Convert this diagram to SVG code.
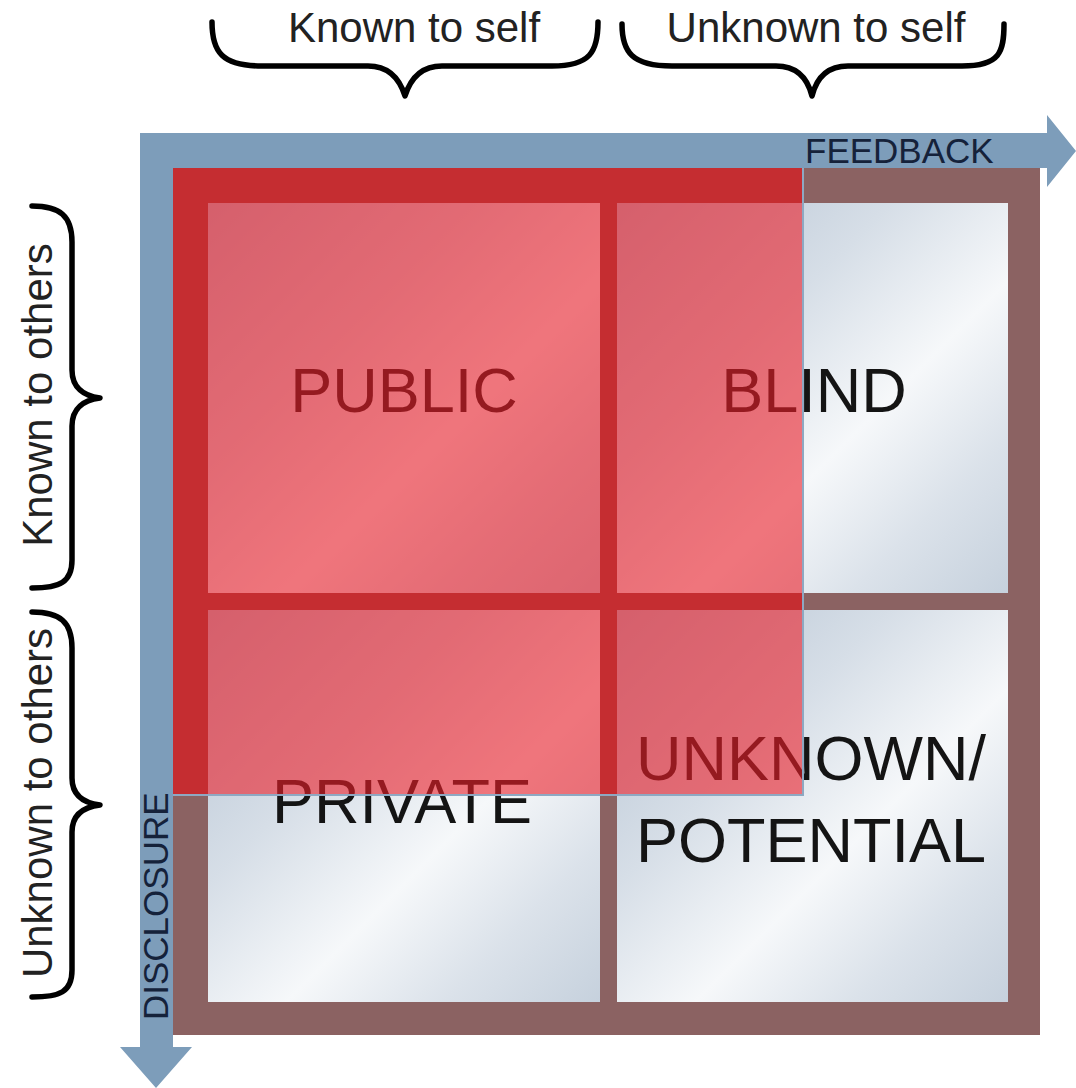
<svg xmlns="http://www.w3.org/2000/svg" width="1076" height="1088" viewBox="0 0 1076 1088">
  <defs>
    <linearGradient id="cellG" x1="0" y1="0" x2="1" y2="1">
      <stop offset="0" stop-color="#b4c2d2"/>
      <stop offset="0.35" stop-color="#d6dee7"/>
      <stop offset="0.6" stop-color="#f6f8fa"/>
      <stop offset="0.8" stop-color="#dbe2ea"/>
      <stop offset="1" stop-color="#c6d1dd"/>
    </linearGradient>
    <style>
      .cell { fill: url(#cellG); }
      .frame { fill: #8b6262; }
      .lbl { font-family: "Liberation Sans", Arial, sans-serif; font-size: 63px; fill: #141414; }
      .hdr { font-family: "Liberation Sans", Arial, sans-serif; font-size: 42px; fill: #222222; text-anchor: middle; }
      .axis { font-family: "Liberation Sans", Arial, sans-serif; font-size: 35px; fill: #15223a; }
      .brace { fill: none; stroke: #000000; stroke-width: 5.5; stroke-linecap: round; stroke-linejoin: round; }
      .bar { fill: #7d9dba; }
      .red { fill: #c81e22; opacity: 0.45; }
    </style>
  </defs>
  <rect width="1076" height="1088" fill="#ffffff"/>

  <!-- braces and header labels -->
  <g id="known-to-self">
    <path class="brace" d="M212,22 C212,52 222,66 262,66 L368,66 C390,66 400,80 405,96 C410,80 420,66 442,66 L552,66 C590,66 598,52 598,22"/>
    <text class="hdr" x="414" y="42">Known to self</text>
  </g>
  <g id="unknown-to-self">
    <path class="brace" d="M622,24 C622,52 632,66 672,66 L776,66 C798,66 808,80 812,96 C816,80 826,66 848,66 L962,66 C1000,66 1004,52 1004,24"/>
    <text class="hdr" x="816" y="42">Unknown to self</text>
  </g>
  <g id="known-to-others">
    <path class="brace" d="M32,206 C60,206 72,216 72,242 L72,370 C72,388 84,396 100,398 C84,400 72,408 72,426 L72,560 C72,582 60,588 32,588"/>
    <text class="hdr" transform="translate(52,395) rotate(-90)">Known to others</text>
  </g>
  <g id="unknown-to-others">
    <path class="brace" d="M32,612 C60,612 72,622 72,648 L72,778 C72,796 84,803 100,805 C84,807 72,814 72,832 L72,970 C72,992 60,997 32,997"/>
    <text class="hdr" transform="translate(52,803) rotate(-90)">Unknown to others</text>
  </g>

  <!-- connectors: feedback and disclosure arrows -->
  <g id="connectors">
    <path id="feedback-arrow" class="bar" d="M140,133 L1047,133 L1047,115 L1076,151 L1047,187 L1047,168 L173,168 L173,133 Z"/>
    <path id="disclosure-arrow" class="bar" d="M140,133 L173,133 L173,1047 L192,1047 L156,1088 L120,1047 L140,1047 Z"/>
  </g>

  <!-- window frame -->
  <g id="frame">
    <rect class="frame" x="173" y="168" width="867" height="867"/>
  </g>

  <g id="public">
    <rect class="cell" x="208" y="203" width="392" height="390"/>
    <text class="lbl" x="404" y="412" text-anchor="middle">PUBLIC</text>
  </g>
  <g id="blind">
    <rect class="cell" x="617" y="203" width="391" height="390"/>
    <text class="lbl" x="814" y="412" text-anchor="middle">BLIND</text>
  </g>
  <g id="private">
    <rect class="cell" x="208" y="610" width="392" height="392"/>
    <text class="lbl" x="402" y="823" text-anchor="middle">PRIVATE</text>
  </g>
  <g id="unknown">
    <rect class="cell" x="617" y="610" width="391" height="392"/>
    <text class="lbl" x="636" y="780">UNKNOWN/</text>
    <text class="lbl" x="636" y="862">POTENTIAL</text>
  </g>

  <!-- red open-area overlay -->
  <g id="open-area">
    <rect x="173" y="168" width="630" height="627" fill="#eb1e28" opacity="0.6"/>
    <rect class="red" x="173" y="168" width="630" height="35"/>
    <rect class="red" x="173" y="203" width="35" height="592"/>
    <rect class="red" x="600" y="203" width="17" height="592"/>
    <rect class="red" x="208" y="593" width="392" height="17"/>
    <rect class="red" x="617" y="593" width="186" height="17"/>
    <path d="M803,168 L803,795 L173,795" fill="none" stroke="#8ea8c2" stroke-width="2"/>
  </g>

  <g id="axis-labels">
    <text class="axis" x="805" y="163">FEEDBACK</text>
    <text class="axis" transform="translate(168,1020) rotate(-90)">DISCLOSURE</text>
  </g>
</svg>
